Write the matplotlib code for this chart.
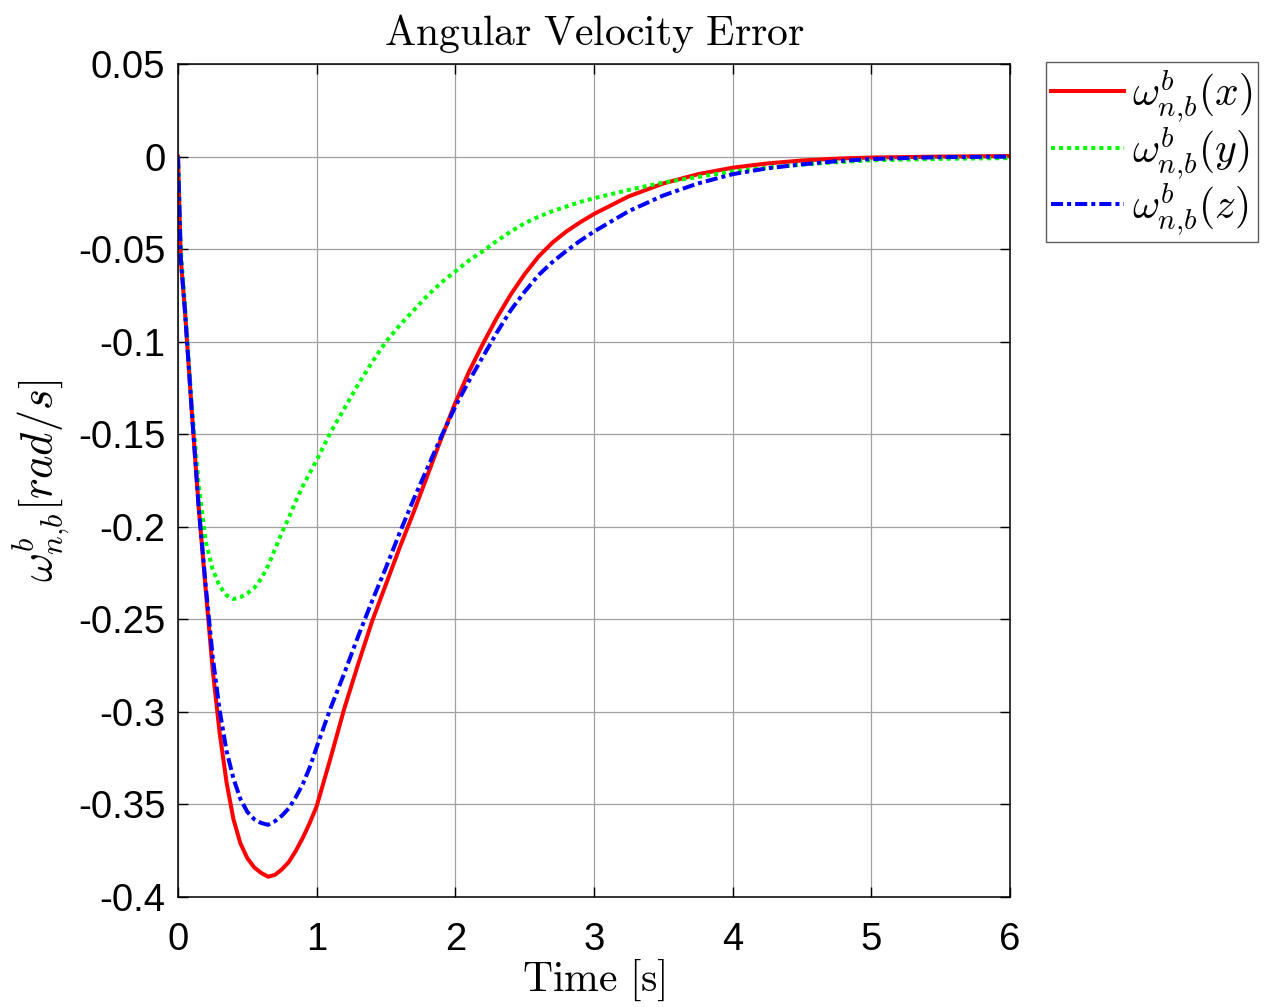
import matplotlib
matplotlib.use("Agg")
import matplotlib.pyplot as plt

plt.rcParams['mathtext.fontset'] = 'cm'
plt.rcParams['axes.unicode_minus'] = False
plt.rcParams['font.family'] = ['Liberation Sans', 'DejaVu Sans']

t = [0, 0.02, 0.05, 0.1, 0.15, 0.2, 0.25, 0.3, 0.35, 0.4, 0.45, 0.5, 0.55, 0.6,
     0.65, 0.7, 0.75, 0.8, 0.85, 0.9, 0.95, 1.0, 1.1, 1.2, 1.3, 1.4, 1.5, 1.6,
     1.7, 1.8, 1.9, 2.0, 2.1, 2.2, 2.3, 2.4, 2.5, 2.6, 2.7, 2.8, 2.9, 3.0, 3.25,
     3.5, 3.75, 4.0, 4.25, 4.5, 4.75, 5.0, 5.5, 6.0]

w_x = [0, -0.055, -0.083, -0.138, -0.19, -0.234, -0.277, -0.311, -0.338, -0.358,
       -0.371, -0.379, -0.384, -0.387, -0.389, -0.388, -0.385, -0.381, -0.375,
       -0.368, -0.360, -0.351, -0.325, -0.298, -0.274, -0.251, -0.231, -0.211,
       -0.192, -0.172, -0.152, -0.133, -0.116, -0.101, -0.087, -0.0745, -0.0635,
       -0.054, -0.0465, -0.0405, -0.0355, -0.031, -0.0215, -0.0145, -0.0095, -0.006,
       -0.0037, -0.0021, -0.0011, -0.0005, 0.0, 0.0003]

w_y = [0, -0.05, -0.08, -0.135, -0.178, -0.208, -0.223, -0.232, -0.237, -0.239,
       -0.238, -0.236, -0.233, -0.228, -0.221, -0.212, -0.203, -0.195, -0.186,
       -0.178, -0.171, -0.164, -0.149, -0.136, -0.123, -0.111, -0.100, -0.091,
       -0.083, -0.075, -0.068, -0.062, -0.056, -0.051, -0.0455, -0.0405, -0.036,
       -0.0325, -0.0295, -0.027, -0.0245, -0.0225, -0.018, -0.014, -0.011,
       -0.008, -0.006, -0.0043, -0.003, -0.002, -0.0012, -0.0008]

w_z = [0, -0.055, -0.083, -0.138, -0.19, -0.232, -0.27, -0.299, -0.321, -0.336,
       -0.347, -0.354, -0.358, -0.360, -0.361, -0.359, -0.356, -0.352, -0.346,
       -0.339, -0.330, -0.319, -0.298, -0.279, -0.259, -0.240, -0.222, -0.203,
       -0.185, -0.168, -0.151, -0.135, -0.121, -0.108, -0.095, -0.083, -0.073,
       -0.064, -0.057, -0.051, -0.0455, -0.0405, -0.0295, -0.021, -0.0145, -0.0095,
       -0.0063, -0.0042, -0.0025, -0.0013, -0.0003, 0.0]

labels = [r'$\omega^b_{n{,}b}(x)$', r'$\omega^b_{n{,}b}(y)$', r'$\omega^b_{n{,}b}(z)$']
x_ticks = [0, 1, 2, 3, 4, 5, 6]
y_ticks = [0.05, 0, -0.05, -0.1, -0.15, -0.2, -0.25, -0.3, -0.35, -0.4]
y_ticklabels = ['0.05', '0', '-0.05', '-0.1', '-0.15', '-0.2', '-0.25', '-0.3', '-0.35', '-0.4']

fig = plt.figure(figsize=(12.65, 10.07), dpi=100)
ax = fig.add_axes([0.1407, 0.1092, 0.6577, 0.8272])

ax.plot(t, w_x, color='#ff0000', lw=2.9, ls='-', label=labels[0])
ax.plot(t, w_y, color='#00ff00', lw=2.9, ls=(0, (1, 1)), label=labels[1])
ax.plot(t, w_z, color='#0000ff', lw=2.9, ls=(0, (3, 1, 1, 1)), label=labels[2])

ax.set_xlim(0, 6)
ax.set_ylim(-0.4, 0.05)
ax.set_xticks(x_ticks)
ax.set_xticklabels([str(v) for v in x_ticks])
ax.set_yticks(y_ticks)
ax.set_yticklabels(y_ticklabels)
ax.tick_params(direction='in', length=7, width=1, labelsize=27.5, top=True, right=True)
ax.tick_params(axis='y', pad=9)
ax.tick_params(axis='x', pad=18)
ax.grid(True, color='#a0a0a0', lw=0.9)
for s in ax.spines.values():
    s.set_linewidth(1.1)

ax.set_title(r'$\mathrm{Angular\ Velocity\ Error}$', fontsize=30, pad=14)
ax.set_xlabel(r'$\mathrm{Time\ [s]}$', fontsize=30, labelpad=0)
ax.set_ylabel(r'$\omega^b_{n{,}b}[rad/s]$', fontsize=32, labelpad=4)

leg = ax.legend(loc='upper left', bbox_to_anchor=(0.827, 0.9384),
                bbox_transform=fig.transFigure, borderaxespad=0,
                fontsize=30, fancybox=False, edgecolor='#333333',
                handlelength=1.75, handletextpad=0.2, labelspacing=0.0,
                borderpad=0.12)
leg.get_frame().set_linewidth(1.0)

fig.savefig('out.png', dpi=100)
